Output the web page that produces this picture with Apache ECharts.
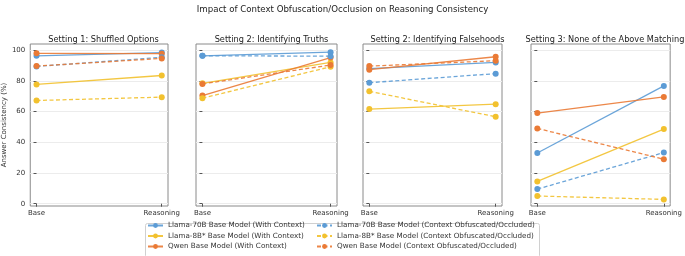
<!DOCTYPE html>
<html>
<head>
<meta charset="utf-8">
<script src="https://cdn.jsdelivr.net/npm/echarts@6/dist/echarts.min.js"></script>
<style>
  html, body { margin: 0; padding: 0; background: #fff; }
  #main { width: 685px; height: 256px; }
</style>
</head>
<body>
<div id="main"></div>
<script>
// panels and x labels
var panels = ['Setting 1: Shuffled Options', 'Setting 2: Identifying Truths',
  'Setting 2: Identifying Falsehoods', 'Setting 3: None of the Above Matching'];
var stages = ['Base', 'Reasoning'];
var yTicks = [0, 20, 40, 60, 80, 100];

var seriesNames = [
  'Llama-70B Base Model (With Context)',
  'Llama-8B* Base Model (With Context)',
  'Qwen Base Model (With Context)',
  'Llama-70B Base Model (Context Obfuscated/Occluded)',
  'Llama-8B* Base Model (Context Obfuscated/Occluded)',
  'Qwen Base Model (Context Obfuscated/Occluded)'
];
var seriesColors = ['#5b9bd5', '#f2c12e', '#ea7a35', '#5b9bd5', '#f2c12e', '#ea7a35'];
var seriesDashed = [false, false, false, true, true, true];

// [base, reasoning] per panel
var llama70Ctx = [[96.3, 98.4], [96.3, 98.7], [88.0, 92.0], [33.0, 76.7]];
var llama8Ctx  = [[77.7, 83.5], [78.4, 92.0], [61.6, 64.8], [14.5, 48.6]];
var qwenCtx    = [[97.9, 97.7], [70.4, 95.2], [87.3, 95.7], [59.0, 69.5]];
var llama70Obf = [[89.4, 95.3], [96.3, 96.1], [78.8, 84.7], [9.5, 33.3]];
var llama8Obf  = [[67.2, 69.4], [68.7, 89.2], [73.2, 56.6], [5.0, 2.8]];
var qwenObf    = [[89.6, 94.6], [78.0, 90.3], [89.6, 93.1], [49.0, 29.0]];

var allData = [llama70Ctx, llama8Ctx, qwenCtx, llama70Obf, llama8Obf, qwenObf];

var gridLefts = [29, 196, 363, 531];
var gridWidths = [139, 141, 139, 142];
var font = 'DejaVu Sans';

var grids = [], xAxes = [], yAxes = [], titles = [], series = [];

titles.push({
  text: 'Impact of Context Obfuscation/Occlusion on Reasoning Consistency',
  left: 'center', top: 0,
  textStyle: { fontFamily: font, fontSize: 8.6, fontWeight: 'normal', color: '#222' }
});

panels.forEach(function (name, p) {
  grids.push({
    left: gridLefts[p], top: 44, width: gridWidths[p], height: 162,
    show: true, borderColor: '#8a8a8a', borderWidth: 1, backgroundColor: 'transparent'
  });
  titles.push({
    text: name,
    left: gridLefts[p] + gridWidths[p] / 2 - (p === 3 ? 2 : 0), top: 31, textAlign: 'center',
    textStyle: { fontFamily: font, fontSize: 8.2, fontWeight: 'normal', color: '#222' }
  });
  xAxes.push({
    type: 'value', gridIndex: p, min: -0.05, max: 1.05,
    axisLine: { show: false },
    splitLine: { show: false },
    axisTick: { show: true, customValues: [0, 1], length: 3, lineStyle: { color: '#555' } },
    axisLabel: {
      customValues: [0, 1], margin: 4,
      formatter: function (v) { return stages[Math.round(v)]; },
      fontFamily: font, fontSize: 7, color: '#333'
    }
  });
  yAxes.push({
    type: 'value', gridIndex: p, min: -1.5, max: 104,
    name: p === 0 ? 'Answer Consistency (%)' : '',
    nameLocation: 'middle', nameGap: 20,
    nameTextStyle: { fontFamily: font, fontSize: 7, color: '#333' },
    axisLine: { show: false },
    splitLine: { show: true, lineStyle: { color: '#ececec', width: 1 } },
    axisTick: { show: true, customValues: yTicks, length: 3, lineStyle: { color: '#555' } },
    axisLabel: {
      show: p === 0, customValues: yTicks, margin: 5,
      fontFamily: font, fontSize: 7, color: '#333'
    }
  });
  allData.forEach(function (d, s) {
    series.push({
      name: seriesNames[s], type: 'line', xAxisIndex: p, yAxisIndex: p,
      data: stages.map(function (st, i) { return [i, d[p][i]]; }),
      symbol: 'circle', symbolSize: 6, clip: false,
      itemStyle: { color: seriesColors[s] },
      lineStyle: { color: seriesColors[s], width: 1.3, opacity: 0.9,
        type: seriesDashed[s] ? [4, 2.5] : 'solid' },
      emphasis: { disabled: true },
      animation: false
    });
  });
});

var legendText = { fontFamily: font, fontSize: 7.2, color: '#333' };

var option = {
  animation: false,
  title: titles,
  grid: grids,
  xAxis: xAxes,
  yAxis: yAxes,
  legend: [
    { data: seriesNames.slice(0, 3), orient: 'vertical', left: 147, top: 222,
      itemWidth: 15, itemHeight: 6, itemGap: 3.5, padding: 0, textStyle: legendText },
    { data: seriesNames.slice(3, 6), orient: 'vertical', left: 316, top: 222,
      itemWidth: 15, itemHeight: 6, itemGap: 3.5, padding: 0, textStyle: legendText }
  ],
  graphic: [{
    type: 'rect', left: 143, top: 221,
    shape: { width: 394, height: 34, r: 2 },
    style: { fill: 'none', stroke: '#d0d0d0', lineWidth: 1 }, silent: true
  }],
  series: series
};

var chart = echarts.init(document.getElementById('main'), null, { renderer: 'canvas' });
chart.setOption(option);
</script>
</body>
</html>
